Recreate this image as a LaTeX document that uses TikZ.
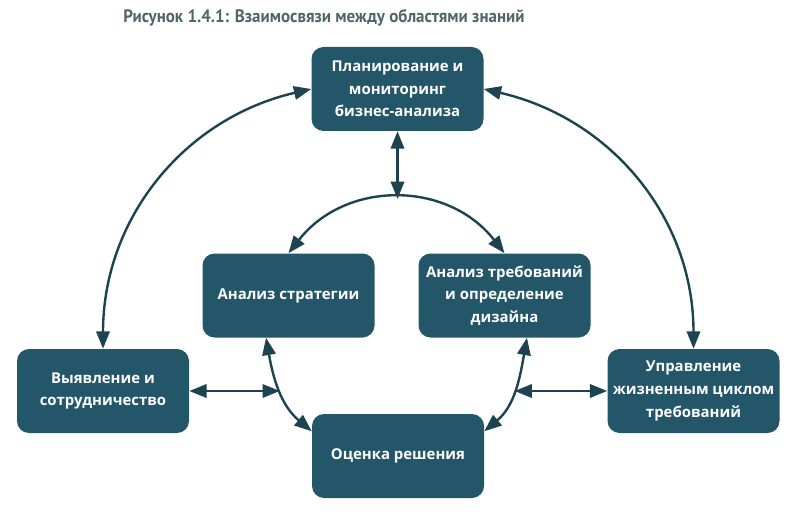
\documentclass[tikz,border=0pt]{standalone}
\usepackage{fontspec}
\setmainfont{Open Sans}
\newfontfamily\ttlfont[FakeStretch=0.94]{PT Sans}
\usetikzlibrary{arrows.meta,calc}
\definecolor{boxteal}{HTML}{235668}
\definecolor{arrink}{HTML}{1D4350}
\definecolor{ttlgray}{HTML}{4F6669}

\begin{document}
\begin{tikzpicture}[x=0.75pt, y=0.75pt,
  blk/.style={fill=boxteal, rounded corners=9pt, align=center, text=white,
              font=\fontsize{11.2}{17}\selectfont\bfseries,
              minimum width=129pt, minimum height=63pt, inner sep=2pt},
  arr/.style={{Triangle[length=13pt,width=10pt]}-{Triangle[length=13pt,width=10pt]},
              line width=1.8pt, arrink},
  ttl/.style={font=\ttlfont\bfseries\fontsize{13.5}{15}\selectfont, text=ttlgray,
              anchor=west, inner sep=0pt}]
  \useasboundingbox (0,0) rectangle (795,511);
  \node[ttl] (title) at (123,493) {Рисунок 1.4.1: Взаимосвязи между областями знаний};
  % knowledge areas
  \node[blk] (plan) at (397.5,422) {Планирование и\\мониторинг\\бизнес-анализа};
  \node[blk] (strat) at (288.5,215.5) {Анализ стратегии};
  \node[blk] (req) at (504.5,215.5) {Анализ требований\\и определение\\дизайна};
  \node[blk] (elic) at (103,120) {Выявление и\\сотрудничество};
  \node[blk] (life) at (693.5,120) {Управление\\жизненным циклом\\требований};
  \node[blk] (eval) at (398,55) {Оценка решения};
  \coordinate (apex) at (397.5,312);
  % connectors
  \draw[arr] (plan.west) to[out=193, in=90] (elic.north);
  \draw[arr] (plan.east) to[out=-13, in=90] (life.north);
  \draw[arr] (plan.south) -- (apex);
  \draw[arr] (strat.north) to[out=52, in=128, looseness=1.1] (req.north);
  \draw[arr] (strat.242) to[out=280, in=140] coordinate[pos=0.5] (lhit) (eval.164);
  \draw[arr] (req.298) to[out=260, in=40] coordinate[pos=0.5] (rhit) (eval.16);
  \draw[arr] (elic.east) -- (elic.east -| lhit);
  \draw[arr] (life.west -| rhit) -- (life.west);
\end{tikzpicture}
\end{document}
